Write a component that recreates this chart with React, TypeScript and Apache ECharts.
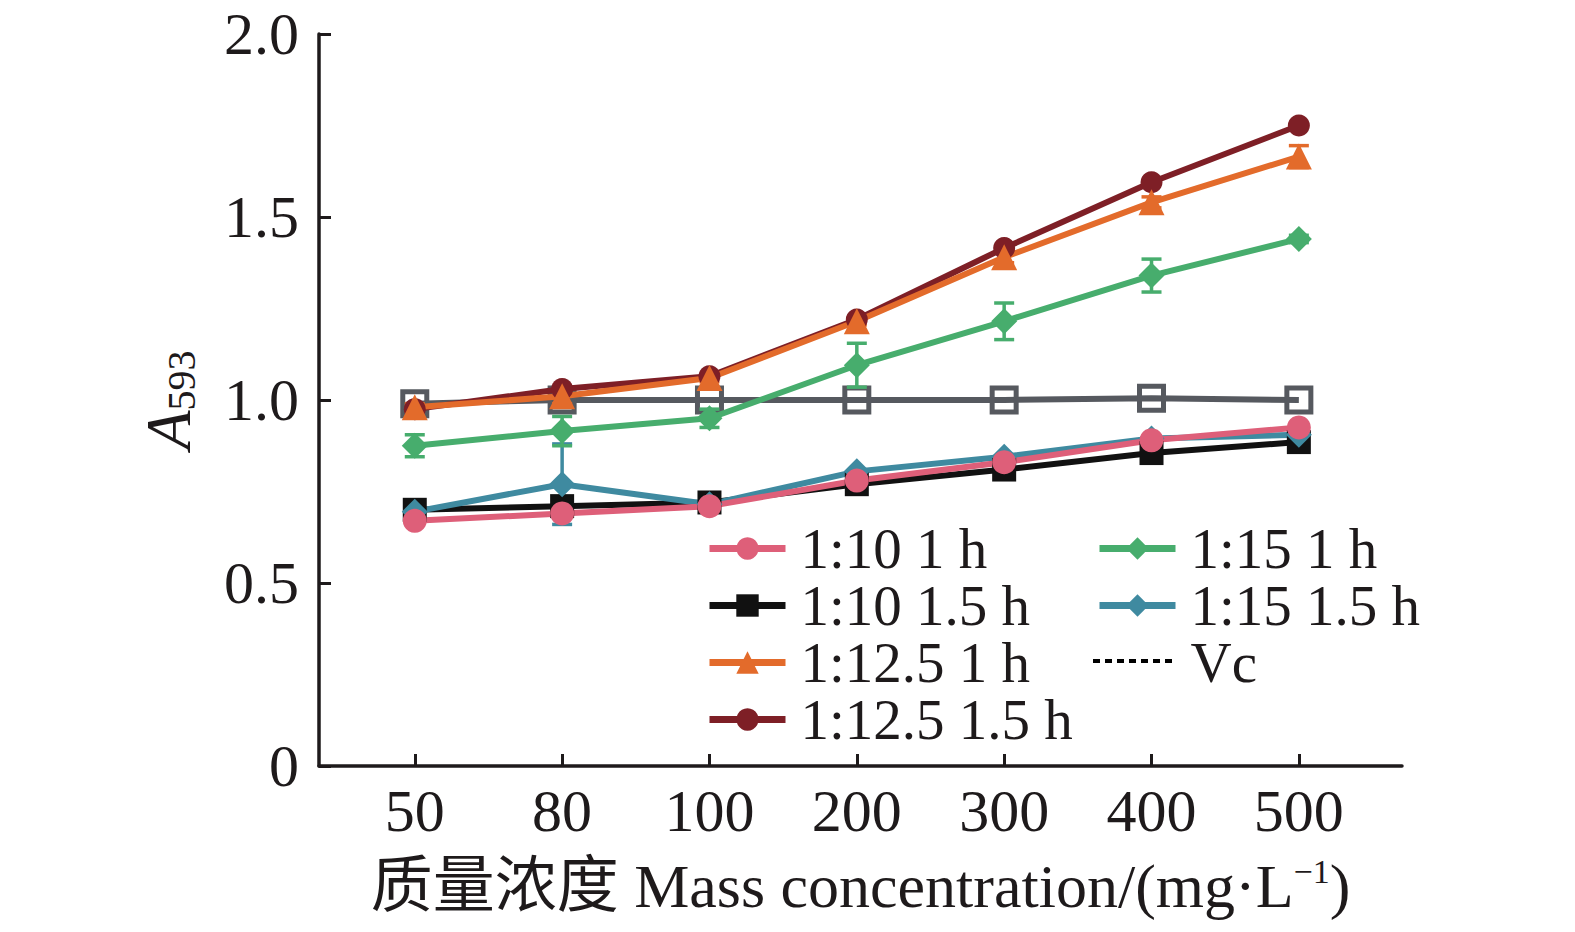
import { useEffect, useRef } from "react";
import * as echarts from "echarts";

const categories = ["50", "80", "100", "200", "300", "400", "500"];

const names = ["1:10 1 h", "1:10 1.5 h", "1:12.5 1 h", "1:12.5 1.5 h", "1:15 1 h", "1:15 1.5 h", "Vc"];

const r10h1 = [0.67, 0.69, 0.71, 0.78, 0.83, 0.89, 0.925];
const r10h15 = [0.7, 0.71, 0.72, 0.77, 0.81, 0.855, 0.885];
const r125h1 = [0.98, 1.01, 1.06, 1.215, 1.39, 1.54, 1.665];
const r125h15 = [0.975, 1.03, 1.065, 1.22, 1.415, 1.595, 1.75];
const r15h1 = [0.875, 0.915, 0.95, 1.095, 1.215, 1.34, 1.44];
const r15h15 = [0.695, 0.77, 0.715, 0.805, 0.845, 0.895, 0.905];
const vc = [0.99, 1.0, 1.0, 1.0, 1.0, 1.005, 1.0];

// error bar half-lengths
const err125h1 = [0.01, 0.02, 0.01, 0.01, 0.015, 0.015, 0.03];
const err15h1 = [0.03, 0.04, 0.025, 0.06, 0.05, 0.045, 0.01];
const err15h15 = [0, 0.11, 0, 0, 0, 0, 0];

const yTicks = [0, 0.5, 1.0, 1.5, 2.0];

const FONT = "'Liberation Serif', 'Times New Roman', 'Noto Sans CJK SC', serif";
const INK = "#1e1a1b";

const colors = {
  pink: "#de5f79",
  black: "#111111",
  orange: "#e36b2b",
  darkred: "#7e1f26",
  green: "#47ad6d",
  teal: "#3f8aa0",
  gray: "#56595f",
};

export default function App() {
  const chartRef = useRef(null);

  useEffect(() => {
    const chart = echarts.init(chartRef.current, null, { renderer: "svg" });

    const pts = (arr: number[]) => arr.map((v, i) => [i, v]);
    const errPts = (arr: number[], e: number[]) => arr.map((v, i) => [i, v, e[i]]);

    const line = (name: string, data: number[], color: string, symbol: string, size: number, extra: any = {}) => ({
      name,
      type: "line",
      data: pts(data),
      symbol,
      symbolSize: size,
      lineStyle: { color, width: 6 },
      itemStyle: { color },
      ...extra,
    });

    const errBar = (data: number[], e: number[], color: string) => ({
      type: "custom",
      silent: true,
      data: errPts(data, e),
      z: 3,
      renderItem: (params: any, api: any) => {
        const x = api.value(0);
        const y = api.value(1);
        const d = api.value(2);
        if (!d) return null;
        const top = api.coord([x, y + d]);
        const bot = api.coord([x, y - d]);
        const hw = 10;
        const style = { stroke: color, lineWidth: 3.5 };
        return {
          type: "group",
          children: [
            { type: "line", shape: { x1: top[0], y1: top[1], x2: bot[0], y2: bot[1] }, style },
            { type: "line", shape: { x1: top[0] - hw, y1: top[1], x2: top[0] + hw, y2: top[1] }, style },
            { type: "line", shape: { x1: bot[0] - hw, y1: bot[1], x2: bot[0] + hw, y2: bot[1] }, style },
          ],
        };
      },
    });

    const legendBase = {
      orient: "vertical",
      top: 515,
      itemWidth: 76,
      itemHeight: 28,
      itemGap: 0,
      selectedMode: false,
      lineStyle: { width: 7 },
      textStyle: { fontSize: 57, lineHeight: 57, fontFamily: FONT, color: INK, padding: [0, 0, 0, 10] },
    };

    const options = {
      animation: false,
      grid: { left: 319, right: 173, top: 34, bottom: 166 },
      legend: [
        { ...legendBase, left: 701, data: names.slice(0, 4) },
        {
          ...legendBase,
          left: 1091,
          data: [names[4], names[5], { name: names[6], icon: "none" }],
        },
      ],
      graphic: [
        {
          type: "line",
          shape: { x1: 1093, y1: 661, x2: 1172, y2: 661 },
          style: { stroke: "#000", lineWidth: 4, lineDash: [7, 5] },
        },
      ],
      xAxis: {
        type: "value",
        min: -0.65,
        max: 6.7,
        splitLine: { show: false },
        axisLine: { onZero: false, lineStyle: { color: INK, width: 3.5 } },
        axisTick: { inside: true, length: 12, lineStyle: { color: INK, width: 3 }, customValues: [0, 1, 2, 3, 4, 5, 6] },
        axisLabel: {
          customValues: [0, 1, 2, 3, 4, 5, 6],
          formatter: (v: number) => categories[Math.round(v)],
          fontSize: 60,
          fontFamily: FONT,
          color: INK,
          margin: 15,
        },
        name: "{t|质量浓度 Mass concentration/(mg·L}{s|−1}{t|)}",
        nameLocation: "middle",
        nameGap: 88,
        nameTextStyle: {
          rich: {
            t: { fontSize: 62, fontFamily: FONT, color: INK, lineHeight: 64 },
            s: { fontSize: 34, fontFamily: FONT, color: INK, verticalAlign: "top", lineHeight: 64 },
          },
        },
      },
      yAxis: {
        type: "value",
        min: 0,
        max: 2,
        interval: 0.5,
        splitLine: { show: false },
        axisLine: { show: true, onZero: false, lineStyle: { color: INK, width: 3.5 } },
        axisTick: { show: true, inside: true, length: 12, lineStyle: { color: INK, width: 3 } },
        axisLabel: {
          formatter: (v: number) => {
            const t = yTicks.find((k) => Math.abs(k - v) < 1e-9);
            return t === 0 ? "0" : (t ?? v).toFixed(1);
          },
          fontSize: 60,
          fontFamily: FONT,
          color: INK,
          margin: 20,
        },
        name: "{a|A}{s|593}",
        nameLocation: "middle",
        nameGap: 118,
        nameTextStyle: {
          rich: {
            a: { fontSize: 64, fontFamily: FONT, fontStyle: "italic", color: INK, lineHeight: 66 },
            s: { fontSize: 40, fontFamily: FONT, color: INK, verticalAlign: "bottom", lineHeight: 66 },
          },
        },
      },
      series: [
        line(names[6], vc, colors.gray, "rect", 24, {
          itemStyle: { color: "rgba(0,0,0,0)", borderColor: colors.gray, borderWidth: 5 },
          z: 2,
        }),
        line(names[1], r10h15, colors.black, "rect", 24),
        line(names[5], r15h15, colors.teal, "diamond", 26),
        line(names[0], r10h1, colors.pink, "circle", 24),
        line(names[4], r15h1, colors.green, "diamond", 26),
        line(names[3], r125h15, colors.darkred, "circle", 22),
        line(names[2], r125h1, colors.orange, "triangle", 26),
        errBar(r15h15, err15h15, colors.teal),
        errBar(r15h1, err15h1, colors.green),
        errBar(r125h1, err125h1, colors.orange),
      ],
    };

    chart.setOption(options);

    return () => {
      chart.dispose();
    };
  }, []);

  return (
    <div
      ref={chartRef}
      style={{ position: "absolute", left: 0, top: 0, width: "1575px", height: "932px", background: "#fff" }}
    />
  );
}
